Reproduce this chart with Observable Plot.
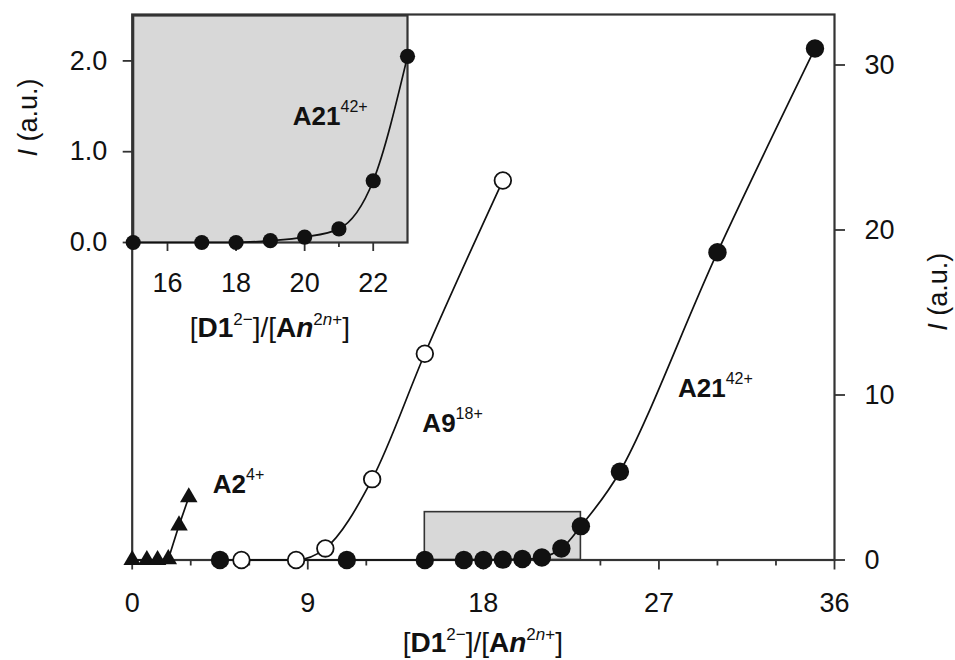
<!DOCTYPE html>
<html><head><meta charset="utf-8">
<script src="https://cdn.jsdelivr.net/npm/d3@7"></script>
<script src="https://cdn.jsdelivr.net/npm/@observablehq/plot@0.6"></script>
<style>
body{margin:0;background:#fff;}
#wrap{position:relative;width:955px;height:660px;font-family:"Liberation Sans",Arial,sans-serif;}
#wrap svg{position:absolute;left:0;top:0;}
</style></head><body><div id="wrap"></div>
<script>
// ---- data ----
const a2X = [0, 0.75, 1.3, 1.85, 2.4, 2.9];
const a2Y = [0, 0, 0, 0.05, 2.1, 3.8];
const a9X = [5.6, 8.4, 9.9, 12.3, 15, 19];
const a9Y = [0, 0, 0.7, 4.9, 12.5, 23.0];
const a21X = [4.5, 11, 15, 17, 18, 19, 20, 21, 22, 23, 25, 30, 35];
const a21Y = [0, 0, 0, 0, 0, 0.02, 0.06, 0.15, 0.7, 2.05, 5.35, 18.65, 31.0];
const insetX = [15, 17, 18, 19, 20, 21, 22, 23];
const insetY = [0, 0, 0, 0.02, 0.06, 0.15, 0.68, 2.05];
const mainMajorTicks = [0, 9, 18, 27, 36];
const mainMinorTicks = [3, 6, 12, 15, 21, 24, 30, 33];
const rightTicks = [0, 10, 20, 30];
const insetMajorTicks = [16, 18, 20, 22];
const insetMinorTicks = [17, 19, 21];
const insetYTicks = [0, 1, 2];
const zoomBox = [{x1: 15, x2: 23, y1: 0, y2: 2.9}];
const mainLabels = [
  {name: "A2", sup: "4+", x: 4.16, y: 4.0},
  {name: "A9", sup: "18+", x: 14.9, y: 7.7},
  {name: "A21", sup: "42+", x: 28.0, y: 9.85}
];
const insetLabels = [{name: "A21", sup: "42+", x: 19.67, y: 1.29}];

const zip = (xs, ys) => xs.map((x, i) => ({x, y: ys[i]}));
const a2 = zip(a2X, a2Y), a9 = zip(a9X, a9Y), a21 = zip(a21X, a21Y), ins = zip(insetX, insetY);

const FONT = '"Liberation Sans", Arial, sans-serif';
const INK = "#111", AX = "#333", GREY = "#d8d8d8";

const main = Plot.plot({
  width: 955, height: 660,
  marginLeft: 131.7, marginRight: 121, marginTop: 14, marginBottom: 100.5,
  x: {domain: [0, 36]},
  y: {domain: [0, 33.06]},
  style: {fontFamily: FONT, fontSize: "27px", color: INK, background: "transparent", overflow: "visible"},
  marks: [
    Plot.rect(zoomBox, {x1: "x1", x2: "x2", y1: "y1", y2: "y2", fill: GREY, stroke: AX, strokeWidth: 1.6}),
    Plot.frame({stroke: AX, strokeWidth: 2.2}),
    Plot.axisX(mainMajorTicks, {tickSize: 10, tickPadding: 23, tickFormat: d => String(d), stroke: AX, strokeWidth: 1.8, label: null}),
    Plot.axisX(mainMinorTicks, {tickSize: 6, tickFormat: () => "", stroke: AX, strokeWidth: 1.8, label: null}),
    Plot.axisY(rightTicks, {anchor: "right", tickSize: 10, tickPadding: 20, tickFormat: d => String(d), stroke: AX, strokeWidth: 1.8, label: null}),
    Plot.line(a2, {x: "x", y: "y", curve: "linear", stroke: INK, strokeWidth: 1.7}),
    Plot.line(a9, {x: "x", y: "y", curve: "monotone-x", stroke: INK, strokeWidth: 1.7}),
    Plot.line(a21, {x: "x", y: "y", curve: "catmull-rom", stroke: INK, strokeWidth: 1.7}),
    Plot.dot(a2, {x: "x", y: "y", symbol: "triangle", r: 6.5, fill: INK, stroke: "none"}),
    Plot.dot(a21, {x: "x", y: "y", symbol: "circle", r: 9.2, fill: INK, stroke: "none"}),
    Plot.dot(a9, {x: "x", y: "y", symbol: "circle", r: 8.3, fill: "white", stroke: INK, strokeWidth: 1.8})
  ]
});

const inset = Plot.plot({
  width: 430, height: 345,
  marginLeft: 132.7, marginRight: 23, marginTop: 15, marginBottom: 103,
  x: {domain: [15, 23]},
  y: {domain: [0, 2.5]},
  style: {fontFamily: FONT, fontSize: "27px", color: INK, background: "transparent", overflow: "visible"},
  marks: [
    Plot.frame({fill: GREY, stroke: AX, strokeWidth: 2.2}),
    Plot.axisX(insetMajorTicks, {tickSize: 9, tickPadding: 21, tickFormat: d => String(d), stroke: AX, strokeWidth: 1.8, label: null}),
    Plot.axisX(insetMinorTicks, {tickSize: 5, tickFormat: () => "", stroke: AX, strokeWidth: 1.8, label: null}),
    Plot.axisY(insetYTicks, {anchor: "left", tickSize: 10, tickPadding: 16, tickFormat: d3.format(".1f"), stroke: AX, strokeWidth: 1.8, label: null}),
    Plot.line(ins, {x: "x", y: "y", curve: "monotone-x", stroke: INK, strokeWidth: 1.7}),
    Plot.dot(ins, {x: "x", y: "y", symbol: "circle", r: 7.6, fill: INK, stroke: "none"})
  ]
});

const wrap = document.getElementById("wrap");
wrap.appendChild(main);
wrap.appendChild(inset);

// rich text helper
function rich(svg, parts, opts) {
  const t = d3.select(svg).append("text")
    .attr("font-family", FONT).attr("fill", INK)
    .attr("font-size", opts.size)
    .attr("text-anchor", opts.anchor || "start");
  if (opts.rotate) {
    t.attr("transform", `translate(${opts.x},${opts.y}) rotate(-90)`).attr("dy", "0.35em");
  } else {
    t.attr("x", opts.x).attr("y", opts.y);
  }
  let shift = 0;
  parts.forEach(p => {
    const s = t.append("tspan").text(p.t);
    if (p.b) s.attr("font-weight", "bold");
    if (p.i) s.attr("font-style", "italic");
    const want = p.sup ? -opts.supShift : 0;
    if (want !== shift) { s.attr("dy", want - shift); shift = want; }
    if (p.sup) s.attr("font-size", opts.supSize);
  });
  return t;
}

function series(svg, plot, list) {
  const sx = plot.scale("x"), sy = plot.scale("y");
  list.forEach(l => {
    rich(svg, [{t: l.name, b: true}, {t: l.sup, sup: true}],
      {x: sx.apply(l.x), y: sy.apply(l.y), size: 26, supSize: 16, supShift: 13});
  });
}
series(main, main, mainLabels);
series(inset, inset, insetLabels);

const ratioParts = [
  {t: "["}, {t: "D1", b: true}, {t: "2\u2212", sup: true}, {t: "]/["},
  {t: "A", b: true}, {t: "n", b: true, i: true},
  {t: "2", sup: true}, {t: "n", sup: true, i: true}, {t: "+", sup: true}, {t: "]"}
];
const msx = main.scale("x"), isx = inset.scale("x"), msy = main.scale("y"), isy = inset.scale("y");
rich(main, ratioParts, {x: (msx.range[0] + msx.range[1]) / 2, y: 652, size: 28, supSize: 17, supShift: 12, anchor: "middle"});
rich(inset, ratioParts, {x: (isx.range[0] + isx.range[1]) / 2, y: 337, size: 28, supSize: 17, supShift: 12, anchor: "middle"});
const yTitle = [{t: "I", i: true}, {t: " (a.u.)"}];
rich(inset, yTitle, {x: 28, y: (isy.range[0] + isy.range[1]) / 2 - 11, size: 27, anchor: "middle", rotate: true});
rich(main, yTitle, {x: 938, y: (msy.range[0] + msy.range[1]) / 2 + 5, size: 27, anchor: "middle", rotate: true});
</script></body></html>
